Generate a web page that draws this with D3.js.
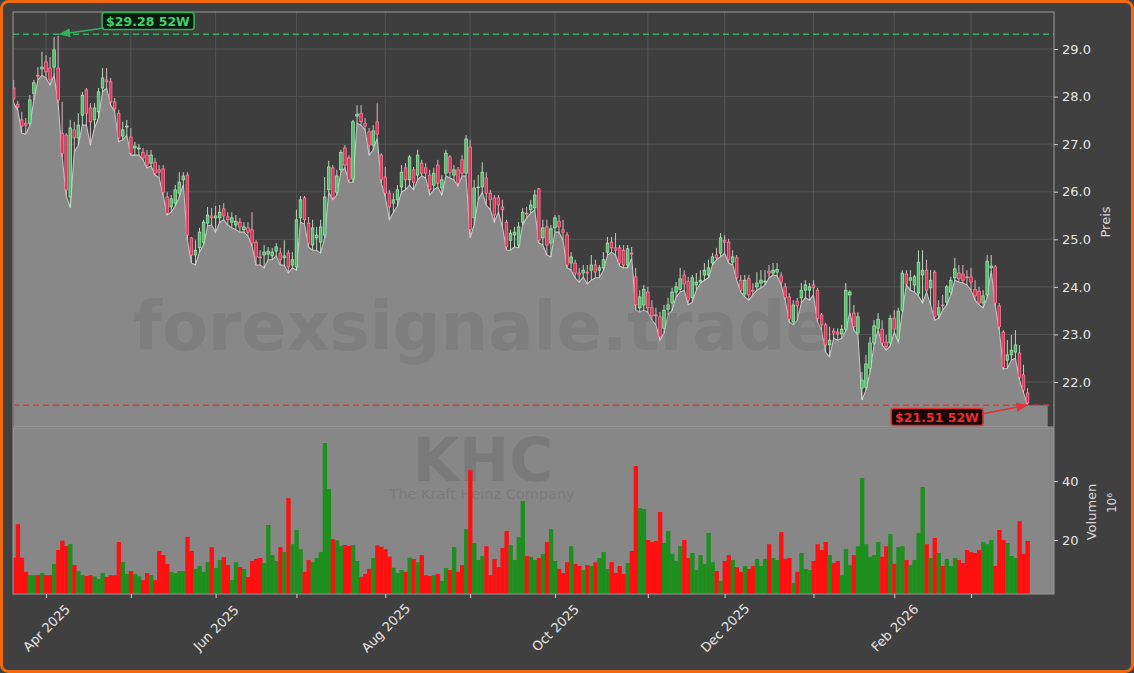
<!DOCTYPE html>
<html><head><meta charset="utf-8">
<script src="https://cdn.jsdelivr.net/npm/d3@7/dist/d3.min.js"></script>
<style>
html,body{margin:0;padding:0;background:#404040;}
svg{display:block;font-family:"DejaVu Sans",sans-serif;}
</style></head><body>
<svg id="chart" width="1134" height="673"></svg>
<script>
// ---- DATA (trading-day index 0 = 20 Mar 2025 ... 251 = 20 Mar 2026) ----
const openP = [
28.18,27.84,27.51,27.44,27.44,28.07,28.45,28.58,28.73,28.60,
28.62,28.60,27.23,27.19,25.89,27.30,27.13,27.61,28.14,27.76,
27.51,27.68,28.18,28.35,28.31,27.89,27.65,27.17,27.36,27.15,
26.92,26.90,26.83,26.77,26.60,26.62,26.46,26.48,25.89,25.68,
25.76,25.97,26.25,26.35,25.03,24.67,24.82,24.94,25.34,25.49,
25.45,25.45,25.64,25.47,25.36,25.30,25.36,25.20,25.24,25.20,
24.94,24.63,24.67,24.69,24.65,24.75,24.71,24.61,24.71,24.46,
24.42,25.45,25.87,25.34,24.88,25.03,24.94,25.09,26.04,26.50,
25.99,26.46,26.92,26.71,26.27,27.59,27.65,27.44,27.26,26.98,
27.47,26.77,26.31,25.97,25.76,25.83,26.10,26.50,26.25,26.46,
26.35,26.60,26.50,26.35,26.14,26.56,26.08,26.39,26.73,26.35,
26.46,26.67,26.39,26.94,25.45,26.08,26.10,26.29,25.97,25.87,
25.87,25.68,25.36,24.98,25.09,24.88,25.36,25.55,25.62,25.66,
26.06,25.03,25.26,24.92,25.24,25.38,25.20,25.09,24.50,24.50,
24.29,24.29,24.31,24.35,24.46,24.35,24.40,24.73,24.94,24.82,
24.82,24.77,24.46,24.71,24.21,23.56,23.62,23.89,23.56,23.41,
23.37,23.13,23.53,23.66,23.89,23.95,24.25,24.12,23.77,24.04,
24.10,24.25,24.25,24.50,24.67,24.71,24.98,24.94,24.52,24.61,
24.14,23.85,24.17,23.93,24.00,24.08,24.10,24.33,24.29,24.31,
24.23,24.00,23.79,23.26,23.70,23.77,23.93,23.93,24.04,23.93,
23.41,23.20,22.78,23.07,23.05,23.01,23.11,23.83,23.45,23.03,
21.87,21.89,22.29,22.82,23.13,23.11,22.84,22.82,23.34,22.90,
23.51,24.27,24.14,24.04,23.87,24.25,24.35,23.98,24.31,23.41,
23.62,23.68,23.89,24.19,24.29,24.27,24.21,24.21,23.95,23.91,
23.66,23.83,24.40,24.42,23.60,23.05,22.46,22.57,22.63,22.61,
22.15,21.77];
const highP = [
28.35,27.91,27.68,27.55,28.03,28.35,28.62,28.94,28.87,28.83,
29.25,29.28,27.89,27.23,27.51,27.47,27.65,28.10,28.18,27.86,
27.86,28.18,28.60,28.60,28.39,27.97,27.72,27.47,27.51,27.34,
27.05,27.00,26.92,26.88,26.88,26.71,26.56,26.56,25.99,25.93,
26.14,26.41,26.41,26.41,25.05,24.98,25.24,25.41,25.68,25.66,
25.70,25.72,25.76,25.57,25.57,25.51,25.45,25.36,25.36,25.57,
24.98,24.77,24.88,24.84,24.82,24.92,24.82,24.98,24.77,24.73,
25.62,25.91,25.91,25.47,25.41,25.26,25.41,26.31,26.65,26.56,
26.46,26.88,26.98,26.77,27.51,27.82,27.82,27.55,27.34,27.40,
27.86,26.81,26.52,26.04,25.97,26.14,26.56,26.60,26.77,26.52,
26.88,26.67,26.60,26.46,26.50,26.67,26.35,26.88,26.77,26.56,
26.52,26.77,27.19,27.09,26.25,26.35,26.62,26.41,26.04,25.93,
25.93,25.83,25.41,25.20,25.26,25.36,25.66,25.68,25.83,26.04,
26.08,25.41,25.41,25.30,25.51,25.51,25.41,25.15,24.73,24.57,
24.40,24.46,24.46,24.67,24.57,24.46,24.73,25.05,25.05,25.13,
24.88,24.88,24.88,24.84,24.40,23.93,24.04,24.00,23.72,23.56,
23.47,23.62,23.77,23.98,24.10,24.40,24.35,24.21,24.25,24.29,
24.35,24.50,24.57,24.71,24.82,25.13,25.09,25.01,24.77,24.67,
24.25,24.25,24.25,24.08,24.31,24.35,24.35,24.46,24.50,24.50,
24.31,24.08,23.87,23.72,23.77,24.08,24.14,24.08,24.14,23.98,
23.45,23.24,23.16,23.13,23.13,23.20,24.08,23.93,23.62,23.47,
22.21,22.57,22.95,23.30,23.45,23.30,22.99,23.41,23.51,23.56,
24.35,24.35,24.35,24.25,24.77,24.77,24.57,24.35,24.35,23.72,
23.83,24.04,24.21,24.61,24.46,24.46,24.35,24.40,24.14,24.00,
23.93,24.67,24.67,24.46,23.66,23.09,22.88,22.99,23.09,22.78,
22.36,21.87];
const lowP = [
27.86,27.72,27.23,27.21,27.40,27.93,28.35,28.45,28.39,28.24,
28.45,27.86,26.73,25.93,25.66,26.83,26.98,27.40,27.40,26.98,
27.34,27.55,28.10,28.18,27.82,27.68,27.05,27.09,27.19,26.77,
26.77,26.77,26.67,26.50,26.54,26.35,26.29,25.93,25.51,25.57,
25.70,25.89,26.16,24.98,24.50,24.46,24.73,24.88,25.28,25.30,
25.15,25.36,25.41,25.30,25.24,25.20,25.15,25.15,25.07,24.86,
24.46,24.46,24.40,24.57,24.57,24.65,24.46,24.46,24.29,24.40,
24.35,25.36,25.32,24.84,24.77,24.77,24.71,25.03,25.99,25.83,
25.93,26.41,26.50,26.20,26.20,27.44,27.40,27.30,26.77,26.88,
27.13,26.18,25.89,25.41,25.57,25.70,25.99,26.04,26.14,26.04,
26.25,26.33,26.29,25.93,26.04,26.10,25.93,26.33,26.29,26.25,
26.12,26.33,26.33,25.03,25.30,25.83,25.99,25.72,25.62,25.36,
25.57,25.26,24.77,24.77,24.84,24.82,25.30,25.45,25.55,25.62,
24.92,24.88,24.67,24.63,25.15,25.15,24.98,24.40,24.35,24.19,
24.10,24.21,24.06,24.14,24.19,24.19,24.35,24.67,24.73,24.67,
24.44,24.40,24.40,24.61,23.51,23.47,23.51,23.47,23.30,23.20,
22.88,23.03,23.41,23.51,23.79,23.89,23.93,23.62,23.68,23.93,
24.08,24.14,24.19,24.46,24.57,24.63,24.71,24.50,24.46,24.14,
23.89,23.79,23.72,23.83,23.93,23.98,24.04,24.19,24.25,24.23,
24.04,23.72,23.26,23.20,23.30,23.66,23.77,23.72,23.83,23.26,
23.09,22.63,22.53,22.92,22.88,22.92,23.07,23.47,23.09,22.99,
21.62,21.83,22.21,22.78,23.09,22.78,22.67,22.76,23.05,22.84,
23.47,24.04,23.93,23.89,23.81,23.66,23.89,23.62,23.30,23.34,
23.51,23.62,23.83,24.14,24.10,24.08,24.04,23.93,23.72,23.62,
23.56,23.77,24.35,23.60,23.09,22.27,22.29,22.46,22.50,22.04,
21.77,21.51];
const closeP = [
27.95,27.78,27.38,27.40,27.93,28.29,28.43,28.62,28.52,28.35,
28.98,27.93,26.81,26.04,27.34,27.13,27.40,28.03,27.65,27.47,
27.76,28.10,28.39,28.31,27.89,27.74,27.13,27.30,27.38,26.81,
26.96,26.92,26.71,26.56,26.77,26.39,26.41,25.99,25.55,25.85,
26.04,26.20,26.33,25.09,24.67,24.77,25.15,25.36,25.51,25.45,
25.49,25.57,25.49,25.41,25.45,25.38,25.26,25.26,25.15,24.92,
24.63,24.61,24.73,24.75,24.73,24.84,24.57,24.65,24.42,24.57,
25.41,25.83,25.41,24.92,25.24,25.09,25.26,25.89,26.52,25.87,
26.33,26.83,26.56,26.25,27.47,27.63,27.47,27.38,26.98,27.28,
27.21,26.25,25.97,25.68,25.83,26.04,26.41,26.25,26.73,26.20,
26.77,26.39,26.39,26.04,26.39,26.18,26.25,26.81,26.41,26.46,
26.18,26.39,27.11,25.20,26.08,26.10,26.41,25.97,25.83,25.51,
25.72,25.62,24.84,25.13,25.15,25.26,25.57,25.53,25.72,25.93,
24.98,25.24,24.88,25.22,25.45,25.26,25.15,24.46,24.63,24.29,
24.25,24.35,24.29,24.46,24.31,24.40,24.57,24.92,24.82,24.77,
24.50,24.46,24.80,24.69,23.62,23.79,23.95,23.56,23.39,23.39,
22.95,23.51,23.62,23.89,24.00,24.17,24.06,23.72,24.19,24.10,
24.14,24.35,24.40,24.63,24.61,25.03,24.94,24.57,24.63,24.19,
23.93,24.14,23.83,23.91,24.08,24.14,24.12,24.29,24.35,24.37,
24.10,23.77,23.32,23.62,23.60,23.93,24.04,24.00,23.98,23.34,
23.20,22.78,22.88,23.03,23.01,23.11,23.93,23.89,23.16,23.37,
22.04,22.38,22.82,23.18,23.32,22.82,22.74,23.34,23.11,23.49,
24.29,24.06,24.19,24.21,24.52,24.35,23.93,24.14,23.37,23.56,
23.60,24.00,24.14,24.38,24.17,24.14,24.19,24.10,23.81,23.66,
23.81,24.54,24.44,23.66,23.16,22.31,22.57,22.67,22.78,22.10,
21.83,21.56];
// volume in millions of shares
const volumeM = [
14.0,25.4,14.0,9.2,8.1,8.1,8.1,8.8,8.1,8.1,
11.9,16.6,19.8,18.0,18.6,11.5,9.5,8.1,7.8,8.1,
7.7,6.8,8.8,7.5,8.1,8.1,19.3,12.5,8.5,9.5,
8.5,7.7,6.4,8.8,8.1,6.4,16.3,14.9,11.9,9.2,
8.8,9.5,9.5,21.1,16.3,10.2,11.2,9.2,12.5,17.6,
10.5,13.2,14.2,11.5,6.4,12.5,10.8,10.2,7.5,12.9,
13.6,13.9,12.2,25.1,14.9,12.9,17.6,15.9,34.2,18.6,
23.4,16.9,9.2,13.2,12.5,13.9,15.9,52.9,37.3,20.3,
19.9,18.0,18.3,18.0,18.3,12.9,7.5,8.5,10.2,13.9,
18.2,17.7,16.9,14.4,10.6,8.8,9.8,9.2,14.0,13.6,
12.5,14.9,8.1,7.8,8.1,8.5,6.1,10.5,9.8,17.6,
9.2,11.5,23.7,43.7,19.0,13.2,14.6,17.9,8.1,13.6,
10.8,17.3,23.1,18.3,13.2,21.0,33.2,14.6,14.3,13.2,
13.9,15.3,19.3,23.7,12.9,10.2,8.8,12.5,17.9,11.9,
11.2,9.8,11.5,11.2,12.5,13.9,15.9,10.2,12.5,8.8,
11.2,8.5,12.2,16.3,45.1,30.8,30.5,20.0,19.3,19.7,
29.5,19.0,23.1,15.3,12.9,17.9,20.0,13.9,15.6,9.8,
14.9,11.9,22.4,12.5,9.5,6.1,12.9,14.9,13.2,10.8,
9.2,11.2,10.2,11.2,13.6,11.2,13.6,18.6,13.9,13.2,
22.7,13.6,13.9,5.4,9.2,15.6,10.2,9.8,12.9,18.6,
16.6,19.3,14.9,12.2,12.9,8.1,16.9,11.5,14.9,17.9,
41.0,18.6,14.3,14.9,19.3,14.3,17.9,22.0,11.9,17.6,
17.9,13.2,11.5,13.2,22.4,38.0,18.6,13.9,20.7,15.6,
11.2,13.6,11.2,13.9,13.2,12.2,16.6,15.9,15.6,16.6,
19.3,18.6,20.0,11.2,23.4,20.0,19.0,14.6,13.9,26.4,
15.3,19.7];
// first trading day of each month (index) and its label
const monthTickIdx = [8, 29, 50, 70, 92, 113, 134, 157, 176, 198, 218, 237];
const monthTickLabels = ["Apr 2025","","Jun 2025","","Aug 2025","","Oct 2025","","Dec 2025","","Feb 2026",""];
const priceTicks = [22, 23, 24, 25, 26, 27, 28, 29];
const volumeTicks = [20, 40];
const high52 = 29.28, high52Idx = 11, high52Label = "$29.28 52W";
const low52 = 21.51, low52Idx = 251, low52Label = "$21.51 52W";
const tickerText = "KHC", companyText = "The Kraft Heinz Company", watermarkText = "forexsignale.trade";

// ---- LAYOUT ----
const L = 13, R = 1054, PT = 12, PB = 427, VT = 428, VB = 594;
const svg = d3.select("#chart");
const x = d3.scaleLinear().domain([-0.17, 257.55]).range([L, R]);
const yP = d3.scaleLinear().domain([21.054, 29.778]).range([PB, PT]);
const yV = d3.scaleLinear().domain([1.7, 58]).range([VB, VT]);
const step = x(1) - x(0);
const N = closeP.length;
const idx = d3.range(N);

// background + orange frame
svg.append("rect").attr("x",1.5).attr("y",1.5).attr("width",1131).attr("height",670)
  .attr("rx",7).attr("fill","#404040").attr("stroke","#f26a10").attr("stroke-width",3);

const defs = svg.append("defs");
defs.append("clipPath").attr("id","cpP").append("rect").attr("x",L).attr("y",PT).attr("width",R-L).attr("height",PB-PT);
defs.append("clipPath").attr("id","cpV").append("rect").attr("x",L).attr("y",VT).attr("width",R-L).attr("height",VB-VT);
const mk = (id,col)=>defs.append("marker").attr("id",id).attr("viewBox","0 0 10 10").attr("refX",9).attr("refY",5)
  .attr("markerWidth",7).attr("markerHeight",7).attr("orient","auto")
  .append("path").attr("d","M0,1 L10,5 L0,9 z").attr("fill",col);
mk("arG","#2fb35a"); mk("arR","#e23232");

// price panel
svg.append("rect").attr("x",L).attr("y",PT).attr("width",R-L).attr("height",PB-PT).attr("fill","#3e3e3e");
const gGrid = svg.append("g").attr("stroke","#5a5a5a").attr("stroke-width",0.8);
priceTicks.forEach(p=>gGrid.append("line").attr("x1",L).attr("x2",R).attr("y1",yP(p)).attr("y2",yP(p)));
monthTickIdx.forEach(i=>gGrid.append("line").attr("x1",x(i)).attr("x2",x(i)).attr("y1",PT).attr("y2",PB));

const gP = svg.append("g").attr("clip-path","url(#cpP)");
const areaIdx = idx.concat([256]);
const lowAt = i => lowP[Math.min(i, N-1)];
gP.append("path").datum(areaIdx)
  .attr("d", d3.area().x(i=>x(i)).y0(PB).y1(i=>yP(lowAt(i))))
  .attr("fill","#888888");
gP.append("path").datum(idx)
  .attr("d", d3.line().x(i=>x(i)).y(i=>yP(lowP[i])))
  .attr("fill","none").attr("stroke","#c4c4c4").attr("stroke-width",1.1);

// watermark
gP.append("text").attr("x",482).attr("y",350).attr("text-anchor","middle")
  .attr("font-size",67).attr("font-weight","bold").attr("fill","#5e5e5e").attr("fill-opacity",0.25)
  .text(watermarkText);

// candles
const up = i => closeP[i] >= openP[i];
const cg = gP.append("g");
idx.forEach(i=>{
  cg.append("line").attr("x1",x(i)).attr("x2",x(i)).attr("y1",yP(highP[i])).attr("y2",yP(lowP[i]))
    .attr("stroke", up(i) ? "#c6e9cb" : "#f0c2cc").attr("stroke-width",0.9);
  const top = yP(Math.max(openP[i],closeP[i])), bot = yP(Math.min(openP[i],closeP[i]));
  cg.append("rect").attr("x",x(i)-1.3).attr("width",2.6).attr("y",top).attr("height",Math.max(0.8,bot-top))
    .attr("fill", up(i) ? "#56b96e" : "#dc3358").attr("stroke", up(i) ? "#a6efb2" : "#ff8aa2").attr("stroke-width",0.7);
});

// 52W lines
svg.append("line").attr("x1",L).attr("x2",R).attr("y1",yP(high52)-1.5).attr("y2",yP(high52)-1.5)
  .attr("stroke","#35b060").attr("stroke-width",1.4).attr("stroke-dasharray","6,4");
svg.append("line").attr("x1",L).attr("x2",R).attr("y1",yP(low52)).attr("y2",yP(low52))
  .attr("stroke","#e23a3a").attr("stroke-width",1.4).attr("stroke-dasharray","6,4");

// volume panel
svg.append("rect").attr("x",L).attr("y",VT).attr("width",R-L).attr("height",VB-VT).attr("fill","#878787");
const gV = svg.append("g").attr("clip-path","url(#cpV)");
gV.append("text").attr("x",483).attr("y",481).attr("text-anchor","middle").attr("font-size",60)
  .attr("font-weight","bold").attr("fill","#5e5e5e").attr("fill-opacity",0.3).text(tickerText);
gV.append("text").attr("x",482).attr("y",499).attr("text-anchor","middle").attr("font-size",14.5)
  .attr("fill","#5e5e5e").attr("fill-opacity",0.3).text(companyText);
gV.selectAll("rect.v").data(idx).join("rect").attr("class","v")
  .attr("x",i=>x(i)-step/2).attr("width",step+0.3)
  .attr("y",i=>yV(volumeM[i])).attr("height",i=>VB-yV(volumeM[i]))
  .attr("fill",i=>up(i) ? "#1d8f1d" : "#ff1010");

// frames
svg.append("rect").attr("x",L).attr("y",PT).attr("width",R-L).attr("height",PB-PT)
  .attr("fill","none").attr("stroke","#9a9a9a").attr("stroke-width",1);
svg.append("rect").attr("x",L).attr("y",VT).attr("width",R-L).attr("height",VB-VT)
  .attr("fill","none").attr("stroke","#9a9a9a").attr("stroke-width",1);

// axes
const styleAxis = g => {
  g.select(".domain").remove();
  g.selectAll(".tick line").attr("stroke","#d0d0d0");
  g.selectAll(".tick text").attr("fill","#e6e6e6").attr("font-family","DejaVu Sans, sans-serif");
};
svg.append("g").attr("transform",`translate(${R},0)`)
  .call(d3.axisRight(yP).tickValues(priceTicks).tickFormat(d3.format(".1f")).tickSize(4).tickPadding(4))
  .call(styleAxis).selectAll("text").attr("font-size",13);
svg.append("g").attr("transform",`translate(${R},0)`)
  .call(d3.axisRight(yV).tickValues(volumeTicks).tickFormat(d3.format("d")).tickSize(4).tickPadding(4))
  .call(styleAxis).selectAll("text").attr("font-size",13);
const gx = svg.append("g").attr("transform",`translate(0,${VB})`)
  .call(d3.axisBottom(x).tickValues(monthTickIdx).tickFormat((d,k)=>monthTickLabels[k]).tickSize(4).tickPadding(3))
  .call(styleAxis);
gx.selectAll(".tick text").attr("font-size",13).attr("text-anchor","middle")
  .attr("y",0).attr("dy","0.35em").attr("transform","translate(0,34) rotate(-45)");

svg.append("text").attr("transform","translate(1110,222) rotate(-90)").attr("text-anchor","middle")
  .attr("font-size",13).attr("fill","#d8d8d8").text("Preis");
svg.append("text").attr("transform","translate(1096,512) rotate(-90)").attr("text-anchor","middle")
  .attr("font-size",13).attr("fill","#d8d8d8").text("Volumen");
svg.append("text").attr("transform","translate(1116,503) rotate(-90)").attr("text-anchor","middle")
  .attr("font-size",12).attr("fill","#d8d8d8").text("10⁶");

// 52W labels
function label(cx, cy, txt, col, bg, border, marker, tx, ty, ax, ay){
  const g = svg.append("g");
  const t = g.append("text").attr("x",cx).attr("y",cy).attr("text-anchor","middle").attr("dominant-baseline","central")
    .attr("font-size",12.5).attr("font-weight","bold").attr("fill",col).text(txt);
  const bb = t.node().getBBox();
  g.insert("rect","text").attr("x",bb.x-4).attr("y",bb.y-1).attr("width",bb.width+8).attr("height",bb.height+2)
    .attr("rx",2.5).attr("fill",bg).attr("stroke",border).attr("stroke-width",1.6);
  svg.append("line").attr("x1",ax).attr("y1",ay).attr("x2",tx).attr("y2",ty)
    .attr("stroke",border).attr("stroke-width",1.6).attr("marker-end",`url(#${marker})`);
}
label(148, 21, high52Label, "#3ed36e", "#0c1a10", "#2fb35a", "arG",
      x(high52Idx)+2, yP(high52)-1.5, 104, 28);
label(937, 417, low52Label, "#e53030", "#1a0707", "#e23232", "arR",
      x(low52Idx)-1, yP(low52), 982, 414);
</script>
</body></html>
